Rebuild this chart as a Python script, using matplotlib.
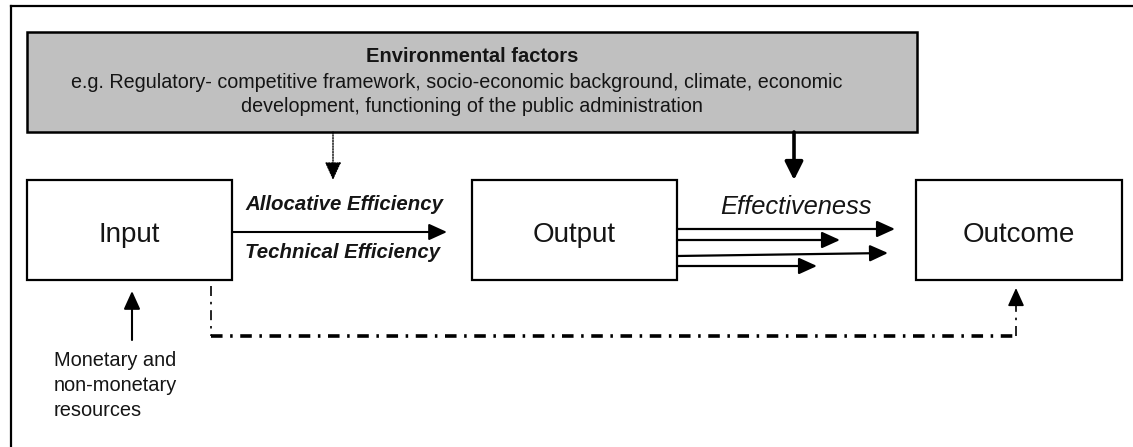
import matplotlib
matplotlib.use("Agg")
import matplotlib.pyplot as plt
from matplotlib.patches import Rectangle

plt.rcParams["font.family"] = ["Liberation Sans", "DejaVu Sans"]

# ========= content =========
ENV_TITLE = "Environmental factors"
ENV_LINES = [
    "e.g. Regulatory- competitive framework, socio-economic background, climate, economic",
    "development, functioning of the public administration",
]
BOX_LABELS = ["Input", "Output", "Outcome"]
EFF_LABELS = ["Allocative Efficiency", "Technical Efficiency"]
EFFECT_LABEL = "Effectiveness"
RESOURCE_LINES = ["Monetary and", "non-monetary", "resources"]

# ========= layout (pixel coords, y down) =========
W, H = 1133, 447
BOXES = [(27, 180, 232, 280), (472, 180, 677, 280), (916, 180, 1122, 280)]
ENV_BOX = (27, 32, 917, 132)
# effectiveness arrows: (y_start, y_end, x_tip)
EFFECT_ARROWS = [(229, 229, 895), (240, 240, 840), (256, 253, 888), (266, 266, 817)]

TXT = "#151515"

fig = plt.figure(figsize=(W / 100, H / 100), dpi=100)
ax = fig.add_axes([0, 0, 1, 1])
ax.set_xlim(0, W)
ax.set_ylim(H, 0)
ax.axis("off")

# outer frame (only top and left visible)
ax.plot([11, 11], [6, H + 5], color="black", lw=1.6)
ax.plot([11, W + 5], [6, 6], color="black", lw=1.6)

# environmental box
x0, y0, x1, y1 = ENV_BOX
ax.add_patch(Rectangle((x0, y0), x1 - x0, y1 - y0, facecolor="#c0c0c0",
                       edgecolor="black", lw=1.8, zorder=2))
ax.text(472, 57, ENV_TITLE, ha="center", va="center", fontsize=14.5,
        fontweight="bold", color=TXT, zorder=3)
ax.text(457, 83, ENV_LINES[0], ha="center", va="center", fontsize=14.2, color=TXT, zorder=3)
ax.text(472, 107, ENV_LINES[1], ha="center", va="center", fontsize=14.2, color=TXT, zorder=3)

# main boxes
for (bx0, by0, bx1, by1), lab in zip(BOXES, BOX_LABELS):
    ax.add_patch(Rectangle((bx0, by0), bx1 - bx0, by1 - by0, facecolor="white",
                           edgecolor="black", lw=1.6, zorder=2))
    ax.text((bx0 + bx1) / 2, (by0 + by1) / 2 + 5, lab, ha="center", va="center",
            fontsize=20, color=TXT, zorder=3)


def arrow(xs, ys, xe, ye, lw=1.5, hl=1.1, hw=0.5, ls="-"):
    ax.annotate("", xy=(xe, ye), xytext=(xs, ys),
                arrowprops=dict(arrowstyle=f"-|>,head_length={hl},head_width={hw}",
                                mutation_scale=10, lw=lw, color="black",
                                linestyle=ls, shrinkA=0, shrinkB=0), zorder=4)


# environment -> efficiency (dotted) and -> effectiveness (thick)
arrow(333, 132, 333, 180, lw=1.0, ls=(0, (1, 1)))
arrow(794, 132, 794, 180, lw=2.6, hl=1.1, hw=0.55)

# input -> output
arrow(232, 232, 447, 232, lw=1.5)
ax.text(344, 205, EFF_LABELS[0], ha="center", va="center", fontsize=14.7,
        fontweight="bold", fontstyle="italic", color=TXT)
ax.text(343, 253, EFF_LABELS[1], ha="center", va="center", fontsize=14.7,
        fontweight="bold", fontstyle="italic", color=TXT)

# output -> outcome (several arrows)
for ys, ye, xt in EFFECT_ARROWS:
    arrow(677, ys, xt, ye, lw=1.6)
ax.text(796, 207, EFFECT_LABEL, ha="center", va="center", fontsize=18.4,
        fontstyle="italic", color=TXT)

# resources -> input
arrow(132, 340, 132, 291, lw=1.5)
for i, line in enumerate(RESOURCE_LINES):
    ax.text(54, 361 + 24.5 * i, line, ha="left", va="center", fontsize=14.4, color=TXT)

# dash-dot link input -> outcome
dd = (0, (3.2, 2.1, 0.7, 2.1))
ax.plot([211, 211], [286, 336], color="black", lw=1.2, linestyle=(0, (6, 3.5, 1.5, 3.5)))
ax.plot([211, 1016], [336, 336], color="black", lw=2.6, linestyle=dd, solid_capstyle="butt")
ax.plot([1016, 1016], [336, 300], color="black", lw=1.2, linestyle=(0, (6, 3.5, 1.5, 3.5)))
arrow(1016, 302, 1016, 288, lw=1.2)

fig.savefig("out.png", dpi=100)
